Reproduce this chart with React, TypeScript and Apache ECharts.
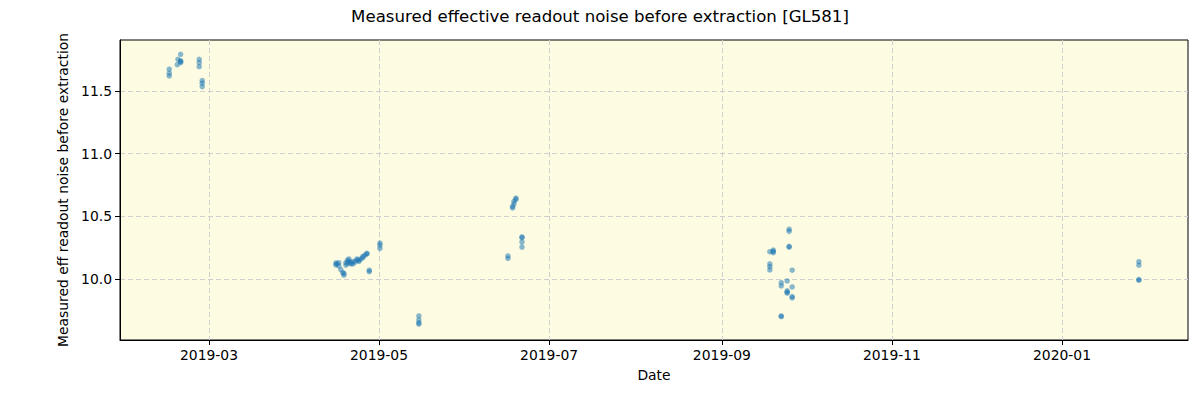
import React, { useEffect, useRef } from "react";
import * as echarts from "echarts";

const TITLE = "Measured effective readout noise before extraction [GL581]";
const X_NAME = "Date";
const Y_NAME = "Measured eff readout noise before extraction";

const X_MIN = "2019-01-28T02:00";
const X_MAX = "2020-02-15T05:00";
const Y_MIN = 9.513;
const Y_MAX = 11.907;

const X_TICKS = ["2019-03-01", "2019-05-01", "2019-07-01", "2019-09-01", "2019-11-01", "2020-01-01"];
const Y_TICKS = [10.0, 10.5, 11.0, 11.5];

// each entry: [timestamp, values measured at that time]
const obsDates = [
  "2019-02-14T18:00", "2019-02-17T15:00", "2019-02-17T21:00", "2019-02-18T20:00",
  "2019-02-25T12:00", "2019-02-26T14:00",
  "2019-04-15T13:00", "2019-04-15T22:00", "2019-04-16T14:00", "2019-04-17T07:00",
  "2019-04-18T00:00", "2019-04-18T10:00", "2019-04-19T03:00", "2019-04-19T17:00",
  "2019-04-20T05:00", "2019-04-20T22:00", "2019-04-21T15:00", "2019-04-22T09:00",
  "2019-04-23T02:00", "2019-04-23T19:00", "2019-04-24T12:00", "2019-04-25T05:00",
  "2019-04-25T23:00", "2019-04-26T16:00", "2019-04-27T12:00", "2019-05-01T08:00",
  "2019-05-15T07:00",
  "2019-06-16T06:00", "2019-06-17T22:00", "2019-06-18T10:00", "2019-06-19T03:00",
  "2019-06-21T07:00",
  "2019-09-18T05:00", "2019-09-19T10:00", "2019-09-22T07:00", "2019-09-24T10:00",
  "2019-09-25T03:00", "2019-09-26T05:00",
  "2020-01-28T14:00",
];

const obsValues: number[][] = [
  [11.674, 11.642, 11.62],
  [11.71],
  [11.753],
  [11.793, 11.742, 11.726, 11.735],
  [11.753, 11.726, 11.694],
  [11.583, 11.562, 11.535],
  [10.128, 10.112],
  [10.12],
  [10.104, 10.13],
  [10.075],
  [10.05],
  [10.03, 10.045],
  [10.13, 10.11],
  [10.15, 10.125],
  [10.16, 10.14],
  [10.12, 10.13],
  [10.14, 10.12],
  [10.135],
  [10.16, 10.15],
  [10.14, 10.15],
  [10.16],
  [10.18, 10.17],
  [10.19],
  [10.205, 10.2],
  [10.07, 10.058],
  [10.287, 10.27, 10.245],
  [9.705, 9.673, 9.65, 9.64],
  [10.184, 10.165],
  [10.567, 10.58],
  [10.6, 10.62],
  [10.646, 10.635],
  [10.335, 10.33, 10.295, 10.255],
  [10.218, 10.12, 10.098, 10.072],
  [10.23, 10.21, 10.22],
  [9.97, 9.944, 9.7, 9.705],
  [9.984, 9.905, 9.888, 9.895],
  [10.397, 10.38, 10.26, 10.255],
  [10.07, 9.936, 9.85, 9.86],
  [10.138, 10.11, 9.99, 9.995],
];

const FONT = "DejaVu Sans";

function fmtMonth(v: number) {
  const d = new Date(v);
  return `${d.getFullYear()}-${String(d.getMonth() + 1).padStart(2, "0")}`;
}

export default function App() {
  const ref = useRef<HTMLDivElement>(null);
  useEffect(() => {
    if (!ref.current) return;
    const chart = echarts.init(ref.current, null, { renderer: "svg" });
    const points: [number, number][] = [];
    obsDates.forEach((d, i) => {
      const t = new Date(d).getTime();
      obsValues[i].forEach((v) => points.push([t, v]));
    });
    const xTicks = X_TICKS.map((d) => new Date(d + "T00:00").getTime());
    chart.setOption({
      animation: false,
      title: {
        text: TITLE,
        left: "center",
        top: 3,
        textStyle: { fontFamily: FONT, fontSize: 16.6, fontWeight: "normal", color: "#000" },
      },
      grid: {
        left: 120,
        right: 12,
        top: 40,
        bottom: 60,
        show: true,
        backgroundColor: "#fdfce2",
        borderColor: "#000",
        borderWidth: 1,
      },
      xAxis: {
        type: "value",
        min: new Date(X_MIN).getTime(),
        max: new Date(X_MAX).getTime(),
        name: X_NAME,
        nameLocation: "middle",
        nameGap: 28,
        nameTextStyle: { fontFamily: FONT, fontSize: 13.9, color: "#000" },
        axisLine: { show: true, lineStyle: { color: "#000", width: 1 } },
        axisTick: { show: true, length: 5, lineStyle: { color: "#000" }, customValues: xTicks },
        axisLabel: {
          customValues: xTicks,
          formatter: (v: number) => fmtMonth(v),
          fontFamily: FONT,
          fontSize: 13.9,
          color: "#000",
          margin: 8,
        },
        splitLine: { show: true, lineStyle: { color: "#cfcfcf", type: [5, 3], width: 1 } },
      },
      yAxis: {
        type: "value",
        min: Y_MIN,
        max: Y_MAX,
        name: Y_NAME,
        nameLocation: "middle",
        nameGap: 44,
        nameRotate: 90,
        nameTextStyle: { fontFamily: FONT, fontSize: 13.9, color: "#000" },
        axisLine: { show: true, lineStyle: { color: "#000", width: 1 } },
        axisTick: { show: true, length: 5, lineStyle: { color: "#000" }, customValues: Y_TICKS },
        axisLabel: {
          customValues: Y_TICKS,
          formatter: (v: number) => v.toFixed(1),
          fontFamily: FONT,
          fontSize: 13.9,
          color: "#000",
          margin: 8,
        },
        splitLine: { show: true, lineStyle: { color: "#cfcfcf", type: [5, 3], width: 1 } },
      },
      series: [
        {
          type: "scatter",
          data: points,
          symbol: "circle",
          symbolSize: 5.5,
          itemStyle: { color: "rgba(31,119,180,0.65)" },
        },
      ],
    });
    return () => chart.dispose();
  }, []);
  return <div ref={ref} style={{ position: "absolute", left: 0, top: 0, width: 1200, height: 400 }} />;
}
